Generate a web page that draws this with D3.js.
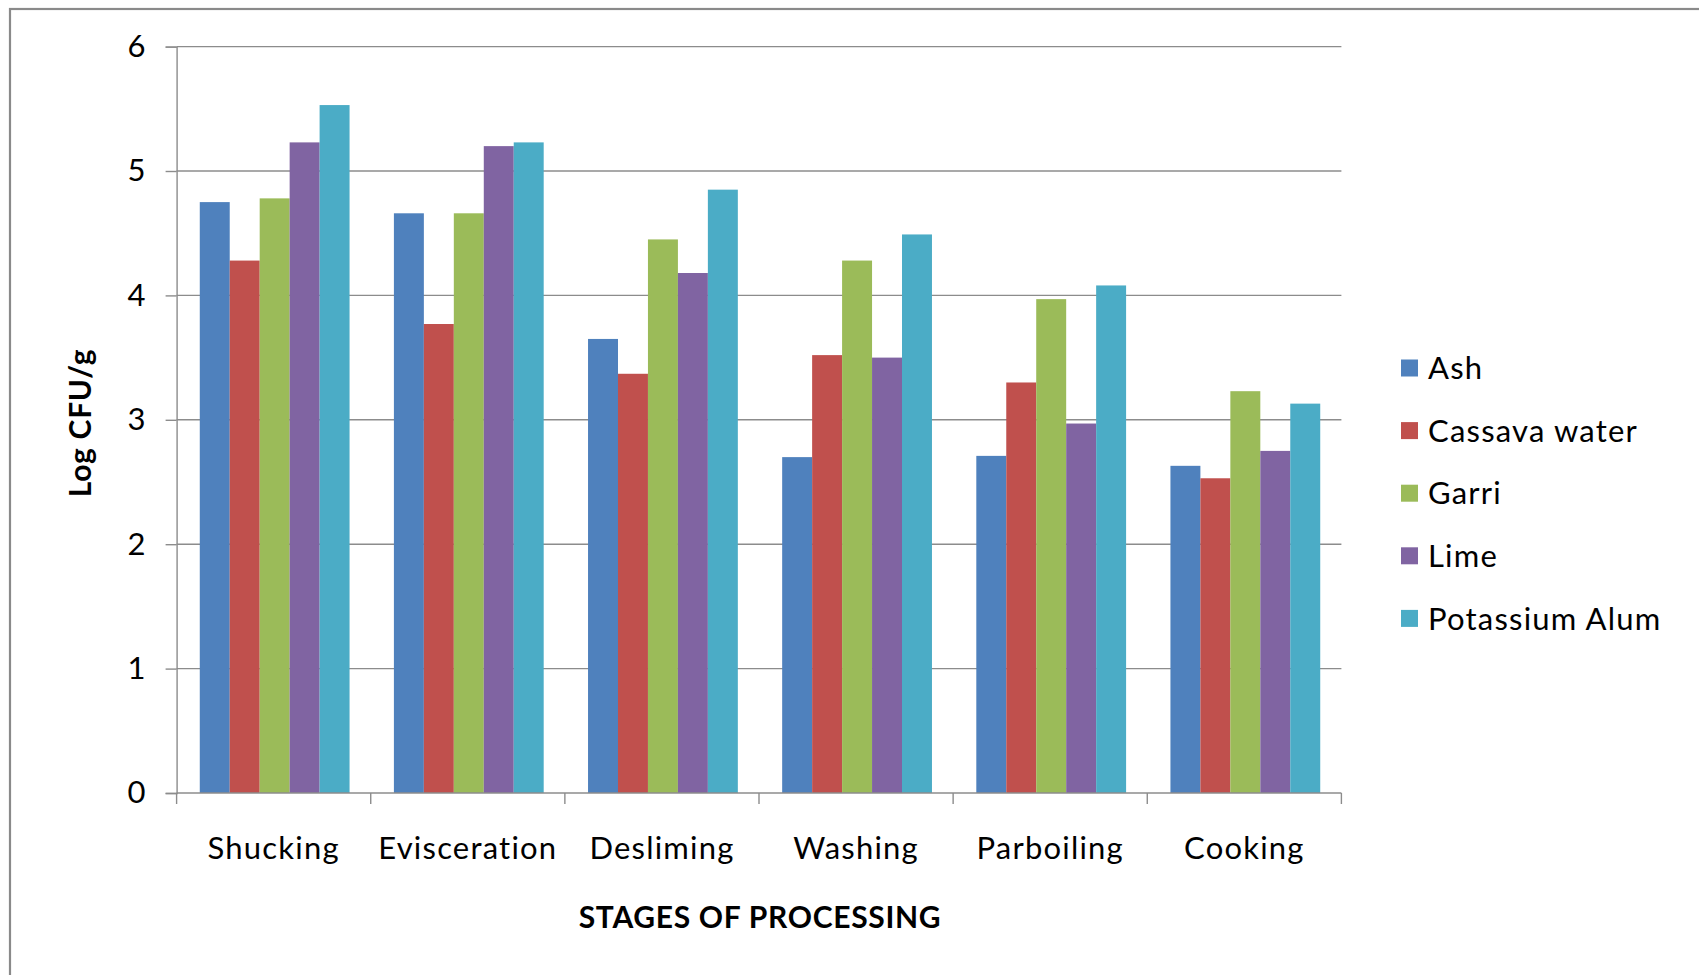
<!DOCTYPE html>
<html>
<head>
<meta charset="utf-8">
<script src="https://cdn.jsdelivr.net/npm/d3@7"></script>
<style>
  body { margin: 0; background: #fff; }
  text { font-family: Lato, "Open Sans", sans-serif; fill: #000; }
</style>
</head>
<body>
<div id="chart"></div>
<script>
const stages = ["Shucking", "Evisceration", "Desliming", "Washing", "Parboiling", "Cooking"];
const treatments = ["Ash", "Cassava water", "Garri", "Lime", "Potassium Alum"];
const colors = ["#4F81BD", "#C0504D", "#9BBB59", "#8064A2", "#4BACC6"];

// Log CFU/g per treatment, one value per stage
const ash = [4.75, 4.66, 3.65, 2.70, 2.71, 2.63];
const cassavaWater = [4.28, 3.77, 3.37, 3.52, 3.30, 2.53];
const garri = [4.78, 4.66, 4.45, 4.28, 3.97, 3.23];
const lime = [5.23, 5.20, 4.18, 3.50, 2.97, 2.75];
const potassiumAlum = [5.53, 5.23, 4.85, 4.49, 4.08, 3.13];
const yTicks = [0, 1, 2, 3, 4, 5, 6];

const seriesValues = [ash, cassavaWater, garri, lime, potassiumAlum];
const rows = stages.map((s, i) => {
  const r = { stage: s };
  treatments.forEach((t, j) => (r[t] = seriesValues[j][i]));
  return r;
});

const W = 1699, H = 975;
const margin = { top: 46.6, left: 176.6, right: 1341.4, bottom: 793 };
const labelFont = "31px";
const labelSpacing = "1.2px";

const svg = d3
  .select("#chart")
  .append("svg")
  .attr("width", W)
  .attr("height", H);

svg.append("rect").attr("width", W).attr("height", H).attr("fill", "#fff");

// outer frame
svg
  .append("rect")
  .attr("x", 10)
  .attr("y", 9)
  .attr("width", W + 20)
  .attr("height", H + 20)
  .attr("fill", "none")
  .attr("stroke", "#8a8a8a")
  .attr("stroke-width", 2.2);

const x0 = d3.scaleBand().domain(stages).range([margin.left, margin.right]);
const x1 = d3
  .scaleBand()
  .domain(treatments)
  .range([0, x0.bandwidth()])
  .paddingOuter(0.74)
  .paddingInner(0);
const y = d3.scaleLinear().domain([0, 6]).range([margin.bottom, margin.top]);

// gridlines
svg
  .append("g")
  .selectAll("line")
  .data(yTicks.slice(1))
  .join("line")
  .attr("x1", margin.left)
  .attr("x2", margin.right)
  .attr("y1", (d) => y(d))
  .attr("y2", (d) => y(d))
  .attr("stroke", "#8c8c8c")
  .attr("stroke-width", 1.4);

// bars
svg
  .append("g")
  .selectAll("g")
  .data(rows)
  .join("g")
  .attr("transform", (d) => `translate(${x0(d.stage) + 1},0)`)
  .selectAll("rect")
  .data((d) => treatments.map((t, j) => ({ key: t, value: d[t], c: colors[j] })))
  .join("rect")
  .attr("x", (d) => x1(d.key))
  .attr("width", x1.bandwidth())
  .attr("y", (d) => y(d.value))
  .attr("height", (d) => y(0) - y(d.value))
  .attr("fill", (d) => d.c);

// y axis
const yAxis = svg
  .append("g")
  .attr("transform", `translate(${margin.left},0)`)
  .call(d3.axisLeft(y).tickValues(yTicks).tickSize(11).tickPadding(20).tickFormat(d3.format("d")));
yAxis.select(".domain").attr("stroke", "#8c8c8c").attr("stroke-width", 1.4);
yAxis.selectAll(".tick line").attr("stroke", "#8c8c8c").attr("stroke-width", 1.4);
yAxis.selectAll("text").style("font-size", labelFont).attr("fill", "#000");

// x axis: ticks at category boundaries
const xg = svg.append("g");
xg.append("line")
  .attr("x1", margin.left)
  .attr("x2", margin.right)
  .attr("y1", y(0))
  .attr("y2", y(0))
  .attr("stroke", "#8c8c8c")
  .attr("stroke-width", 1.4);
const bounds = stages.map((s) => x0(s)).concat([margin.right]);
xg.selectAll(".xt")
  .data(bounds)
  .join("line")
  .attr("x1", (d) => d)
  .attr("x2", (d) => d)
  .attr("y1", y(0))
  .attr("y2", y(0) + 11)
  .attr("stroke", "#8c8c8c")
  .attr("stroke-width", 1.4);
xg.selectAll(".xl")
  .data(stages)
  .join("text")
  .attr("x", (d) => x0(d) + x0.bandwidth() / 2)
  .attr("y", 859)
  .attr("text-anchor", "middle")
  .style("font-size", labelFont)
  .style("letter-spacing", labelSpacing)
  .text((d) => d);

// axis titles
svg
  .append("text")
  .attr("transform", "translate(91,423) rotate(-90)")
  .attr("text-anchor", "middle")
  .style("font-size", "30px")
  .style("font-weight", "bold")
  .style("letter-spacing", "0.7px")
  .text("Log CFU/g");

svg
  .append("text")
  .attr("x", 760)
  .attr("y", 928)
  .attr("text-anchor", "middle")
  .style("font-size", "30px")
  .style("font-weight", "bold")
  .style("letter-spacing", "0.7px")
  .text("STAGES OF PROCESSING");

// legend
const legend = svg
  .append("g")
  .selectAll("g")
  .data(treatments)
  .join("g")
  .attr("transform", (d, i) => `translate(1401,${368 + i * 62.6})`);
legend
  .append("rect")
  .attr("x", 0)
  .attr("y", -8.5)
  .attr("width", 17)
  .attr("height", 17)
  .attr("fill", (d, i) => colors[i]);
legend
  .append("text")
  .attr("x", 27)
  .attr("y", 0)
  .attr("dy", "0.36em")
  .style("font-size", labelFont)
  .style("letter-spacing", labelSpacing)
  .text((d) => d);
</script>
</body>
</html>
